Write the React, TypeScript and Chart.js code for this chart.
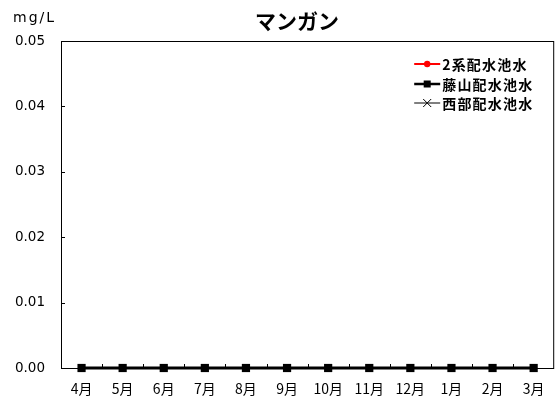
import React, { useEffect, useRef } from "react";
import { Chart, registerables } from "chart.js";

Chart.register(...registerables);

const title = "マンガン";
const unitLabel = "mg/L";
const months = ["4月", "5月", "6月", "7月", "8月", "9月", "10月", "11月", "12月", "1月", "2月", "3月"];
const yTickValues = [0, 0.01, 0.02, 0.03, 0.04, 0.05];
const seriesNames = ["2系配水池水", "藤山配水池水", "西部配水池水"];
const values2kei = [0, 0, 0, 0, 0, 0, 0, 0, 0, 0, 0, 0];
const valuesFujiyama = [0, 0, 0, 0, 0, 0, 0, 0, 0, 0, 0, 0];
const valuesSeibu = [0, 0, 0, 0, 0, 0, 0, 0, 0, 0, 0, 0];

const CJK = '"Noto Sans CJK JP", "Noto Sans", sans-serif';

const framePlugin = {
  id: "frameTicks",
  beforeDatasetsDraw(chart: any) {
    const { ctx, chartArea: a, scales } = chart;
    const x = scales.x;
    const y = scales.y;
    ctx.save();
    ctx.strokeStyle = "#000";
    ctx.lineWidth = 1;
    ctx.strokeRect(a.left + 0.5, a.top + 0.5, a.right - a.left - 1, a.bottom - a.top);
    ctx.beginPath();
    yTickValues.forEach((v) => {
      const py = Math.round(y.getPixelForValue(v)) + 0.5;
      ctx.moveTo(a.left, py);
      ctx.lineTo(a.left + 4, py);
    });
    for (let i = 0; i < months.length - 1; i++) {
      const px = Math.round((x.getPixelForValue(i) + x.getPixelForValue(i + 1)) / 2) + 0.5;
      ctx.moveTo(px, a.bottom);
      ctx.lineTo(px, a.bottom - 4);
    }
    ctx.stroke();
    ctx.restore();
  },
  afterDraw(chart: any) {
    const { ctx, chartArea: a } = chart;
    ctx.save();
    ctx.fillStyle = "#000";
    ctx.font = `bold 21px ${CJK}`;
    ctx.textAlign = "center";
    ctx.textBaseline = "middle";
    ctx.fillText(title, 297, 21);

    ctx.font = '14px "DejaVu Sans", sans-serif';
    ctx.textAlign = "left";
    (ctx as any).letterSpacing = "2px";
    ctx.fillText(unitLabel, 13, 18);

    const lx0 = a.right - 140;
    const lx1 = a.right - 114;
    const mx = (lx0 + lx1) / 2;
    const tx = a.right - 112;
    const ys = [a.top + 23, a.top + 42.5, a.top + 62];
    ctx.font = `bold 14px ${CJK}`;
    (ctx as any).letterSpacing = "1.2px";
    ctx.textBaseline = "middle";
    seriesNames.forEach((name, i) => {
      const yy = Math.round(ys[i]);
      ctx.beginPath();
      if (i === 0) {
        ctx.strokeStyle = "#ff0000";
        ctx.lineWidth = 2;
      } else if (i === 1) {
        ctx.strokeStyle = "#000";
        ctx.lineWidth = 2.5;
      } else {
        ctx.strokeStyle = "#000";
        ctx.lineWidth = 1;
      }
      ctx.moveTo(lx0, yy);
      ctx.lineTo(lx1, yy);
      ctx.stroke();
      if (i === 0) {
        ctx.fillStyle = "#ff0000";
        ctx.beginPath();
        ctx.arc(mx, yy, 3.2, 0, Math.PI * 2);
        ctx.fill();
      } else if (i === 1) {
        ctx.fillStyle = "#000";
        ctx.fillRect(mx - 3.5, yy - 3.5, 7, 7);
      } else {
        ctx.beginPath();
        ctx.lineWidth = 1;
        ctx.moveTo(mx - 4, yy - 4);
        ctx.lineTo(mx + 4, yy + 4);
        ctx.moveTo(mx - 4, yy + 4);
        ctx.lineTo(mx + 4, yy - 4);
        ctx.stroke();
      }
      ctx.fillStyle = "#000";
      ctx.fillText(name, tx, yy + 1);
    });
    ctx.restore();
  },
};

export default function App() {
  const canvasRef = useRef<HTMLCanvasElement | null>(null);

  useEffect(() => {
    const canvas = canvasRef.current;
    if (!canvas) return;
    const chart = new Chart(canvas, {
      type: "line",
      data: {
        labels: months,
        datasets: [
          {
            label: seriesNames[0],
            data: values2kei,
            borderColor: "#ff0000",
            backgroundColor: "#ff0000",
            borderWidth: 2,
            pointStyle: "circle",
            pointRadius: 3.5,
            pointBorderWidth: 0,
            order: 3,
            clip: false as any,
          },
          {
            label: seriesNames[1],
            data: valuesFujiyama,
            borderColor: "#000",
            backgroundColor: "#000",
            borderWidth: 3,
            pointStyle: "rect",
            pointRadius: 5.8,
            pointBorderWidth: 0,
            order: 1,
            clip: false as any,
          },
          {
            label: seriesNames[2],
            data: valuesSeibu,
            borderColor: "#000",
            backgroundColor: "#000",
            borderWidth: 1,
            pointStyle: "crossRot",
            pointRadius: 4,
            pointBorderWidth: 1,
            order: 2,
            clip: false as any,
          },
        ],
      },
      options: {
        responsive: false,
        animation: false,
        events: [],
        layout: { padding: { left: 0, top: 41, right: 3, bottom: 0 } },
        plugins: {
          legend: { display: false },
          title: { display: false },
          tooltip: { enabled: false },
        },
        scales: {
          x: {
            type: "category",
            offset: true,
            grid: { display: false, drawTicks: false },
            border: { display: false },
            ticks: {
              color: "#000",
              font: { family: CJK, size: 14 },
              padding: 12,
              maxRotation: 0,
              autoSkip: false,
            },
            afterFit: (s: any) => {
              s.height = 35;
            },
          },
          y: {
            type: "linear",
            min: 0,
            max: 0.05,
            grid: { display: false, drawTicks: false },
            border: { display: false },
            afterBuildTicks: (s: any) => {
              s.ticks = yTickValues.map((v) => ({ value: v }));
            },
            ticks: {
              color: "#000",
              font: { family: '"DejaVu Sans", sans-serif', size: 13.5 },
              padding: 16,
              callback: (v: any) => Number(v).toFixed(2),
            },
            afterFit: (s: any) => {
              s.width = 61;
            },
          },
        },
      },
      plugins: [framePlugin],
    });
    return () => chart.destroy();
  }, []);

  return (
    <div style={{ position: "fixed", left: 0, top: 0, width: 560, height: 403, background: "#fff" }}>
      <canvas ref={canvasRef} width={560} height={403} style={{ display: "block" }} />
    </div>
  );
}
